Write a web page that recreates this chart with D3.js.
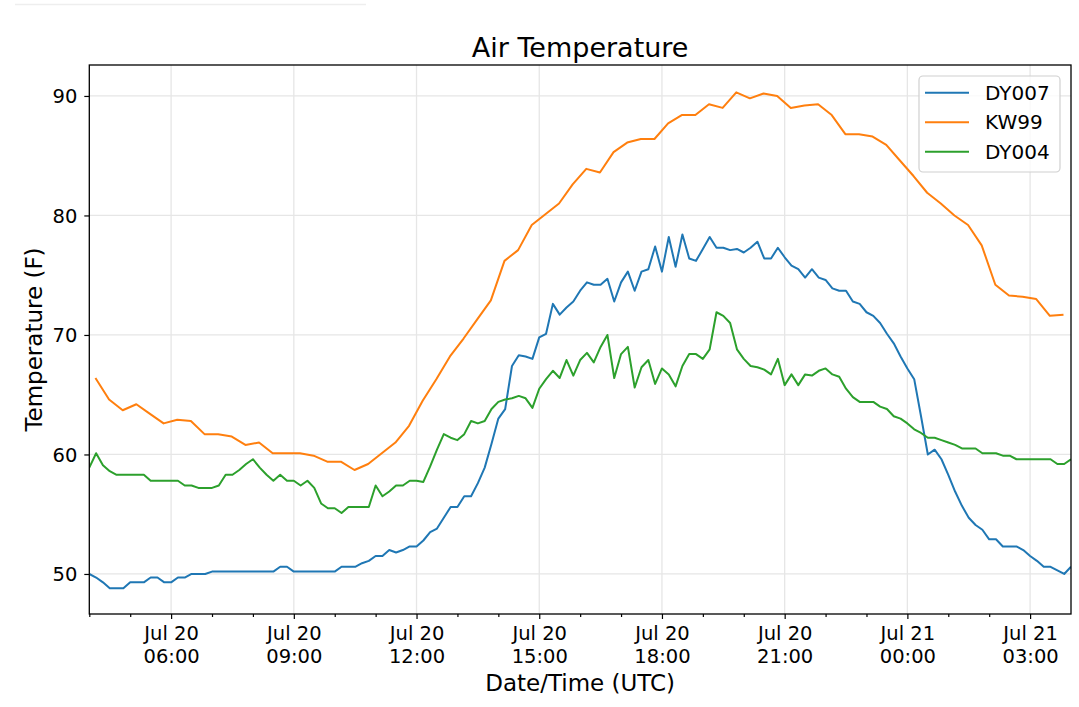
<!DOCTYPE html>
<html lang="en">
  <head>
    <meta charset="utf-8">
    <title>Air Temperature</title>
    <script type="text/javascript" src="https://cdn.jsdelivr.net/npm/d3@7"></script>
    <style type="text/css">
      body { margin: 0; background: #fff; }
      svg text { font-family: "DejaVu Sans", sans-serif; fill: #000; }
    </style>
  </head>
  <body>
    <script type="text/javascript">

      //Width and height
      var w = 1079;
      var h = 707;

      // DY007 and DY004 report every 10 minutes from Jul 20 04:00 UTC
      var stationStart = Date.UTC(2019, 6, 20, 4, 0);
      var stationStep = 10;   // minutes
      // KW99 reports every 20 minutes from Jul 20 04:09 UTC
      var kw99Start = Date.UTC(2019, 6, 20, 4, 9);
      var kw99Step = 20;      // minutes

      var seriesNames = ["DY007", "KW99", "DY004"];
      var seriesColors = ["#1f77b4", "#ff7f0e", "#2ca02c"];

      var dy007 = [50.0, 49.7, 49.3, 48.8, 48.8, 48.8, 49.3, 49.3, 49.3, 49.7,
                   49.7, 49.3, 49.3, 49.7, 49.7, 50.0, 50.0, 50.0, 50.2, 50.2,
                   50.2, 50.2, 50.2, 50.2, 50.2, 50.2, 50.2, 50.2, 50.6, 50.6,
                   50.2, 50.2, 50.2, 50.2, 50.2, 50.2, 50.2, 50.6, 50.6, 50.6,
                   50.9, 51.1, 51.5, 51.5, 52.0, 51.8, 52.0, 52.3, 52.3, 52.8,
                   53.5, 53.8, 54.7, 55.6, 55.6, 56.5, 56.5, 57.6, 58.9, 60.9,
                   63.0, 63.8, 67.4, 68.3, 68.2, 68.0, 69.8, 70.1, 72.6, 71.7,
                   72.3, 72.8, 73.7, 74.4, 74.2, 74.2, 74.7, 72.8, 74.4, 75.3,
                   73.7, 75.3, 75.5, 77.4, 75.3, 78.2, 75.7, 78.4, 76.4, 76.2,
                   77.2, 78.2, 77.3, 77.3, 77.1, 77.2, 76.9, 77.3, 77.8, 76.4,
                   76.4, 77.3, 76.5, 75.8, 75.5, 74.8, 75.5, 74.8, 74.6, 73.9,
                   73.7, 73.7, 72.8, 72.6, 71.9, 71.6, 71.0, 70.1, 69.3, 68.2,
                   67.2, 66.3, 63.2, 60.0, 60.4, 59.6, 58.3, 56.9, 55.7, 54.7,
                   54.1, 53.7, 52.9, 52.9, 52.3, 52.3, 52.3, 52.0, 51.5, 51.1,
                   50.6, 50.6, 50.3, 50.0, 50.6];

      var dy004 = [58.9, 60.1, 59.1, 58.6, 58.3, 58.3, 58.3, 58.3, 58.3, 57.8,
                   57.8, 57.8, 57.8, 57.8, 57.4, 57.4, 57.2, 57.2, 57.2, 57.4,
                   58.3, 58.3, 58.7, 59.2, 59.6, 58.9, 58.3, 57.8, 58.3, 57.8,
                   57.8, 57.4, 57.8, 57.2, 55.9, 55.5, 55.5, 55.1, 55.6, 55.6,
                   55.6, 55.6, 57.4, 56.5, 56.9, 57.4, 57.4, 57.8, 57.8, 57.7,
                   59.0, 60.4, 61.7, 61.4, 61.2, 61.7, 62.8, 62.6, 62.8, 63.8,
                   64.4, 64.6, 64.7, 64.9, 64.7, 63.9, 65.5, 66.3, 67.0, 66.4,
                   67.9, 66.6, 67.9, 68.5, 67.7, 69.0, 70.0, 66.4, 68.4, 69.0,
                   65.6, 67.3, 67.9, 65.9, 67.2, 66.7, 65.7, 67.4, 68.4, 68.4,
                   68.0, 68.8, 71.9, 71.6, 71.0, 68.8, 68.0, 67.4, 67.3, 67.1,
                   66.7, 68.0, 65.8, 66.7, 65.8, 66.7, 66.6, 67.0, 67.2, 66.7,
                   66.5, 65.5, 64.8, 64.4, 64.4, 64.4, 64.0, 63.8, 63.2, 63.0,
                   62.6, 62.1, 61.8, 61.4, 61.4, 61.2, 61.0, 60.8, 60.5, 60.5,
                   60.5, 60.1, 60.1, 60.1, 59.9, 59.9, 59.6, 59.6, 59.6, 59.6,
                   59.6, 59.6, 59.2, 59.2, 59.6];

      var kw99 = [66.4, 64.6, 63.7, 64.2, 63.4, 62.6, 62.9, 62.8, 61.7, 61.7,
                  61.5, 60.8, 61.0, 60.1, 60.1, 60.1, 59.9, 59.4, 59.4, 58.7,
                  59.2, 60.1, 61.0, 62.4, 64.5, 66.3, 68.2, 69.7, 71.3, 72.9,
                  76.2, 77.1, 79.2, 80.1, 81.0, 82.6, 83.9, 83.6, 85.3, 86.1,
                  86.4, 86.4, 87.7, 88.4, 88.4, 89.3, 89.0, 90.3, 89.8, 90.2,
                  90.0, 89.0, 89.2, 89.3, 88.4, 86.8, 86.8, 86.6, 85.9, 84.6,
                  83.3, 81.9, 81.0, 80.0, 79.2, 77.5, 74.2, 73.3, 73.2, 73.0,
                  71.6, 71.7];

      var yTicks = [50, 60, 70, 80, 90];

      function toPoints(values, start, step) {
        return values.map(function(v, i) {
          return { t: new Date(start + i * step * 60000), v: v };
        });
      }

      var series = [
        toPoints(dy007, stationStart, stationStep),
        toPoints(kw99, kw99Start, kw99Step),
        toPoints(dy004, stationStart, stationStep)
      ];

      // plot area
      var plotL = 89.3, plotR = 1071, plotT = 65, plotB = 614;

      var xScale = d3.scaleUtc()
              .domain([new Date(Date.UTC(2019, 6, 20, 4, 0)), new Date(Date.UTC(2019, 6, 21, 4, 0))])
              .range([plotL, plotR]);

      var yScale = d3.scaleLinear()
              .domain([46.65, 92.59])
              .range([plotB, plotT]);

      var majorTicks = d3.utcHour.every(3).range(xScale.domain()[0], xScale.domain()[1]);
      var minorTicks = d3.utcHour.every(1).range(xScale.domain()[0], xScale.domain()[1])
              .filter(function(d) { return d.getUTCHours() % 3 !== 0; });

      //Create SVG element
      var svg = d3.select("body")
            .append("svg")
            .attr("width", w)
            .attr("height", h);

      // faint stray line at the very top of the picture
      svg.append("line")
         .attr("x1", 15).attr("x2", 366)
         .attr("y1", 4.5).attr("y2", 4.5)
         .attr("stroke", "#eeeeee")
         .attr("stroke-width", 1.5);

      //Grid
      svg.append("g")
         .selectAll("line")
         .data(majorTicks)
         .enter()
         .append("line")
         .attr("x1", function(d) { return xScale(d); })
         .attr("x2", function(d) { return xScale(d); })
         .attr("y1", plotT)
         .attr("y2", plotB)
         .attr("stroke", "#e6e6e6")
         .attr("stroke-width", 1.3);

      svg.append("g")
         .selectAll("line")
         .data(yTicks)
         .enter()
         .append("line")
         .attr("x1", plotL)
         .attr("x2", plotR)
         .attr("y1", function(d) { return yScale(d); })
         .attr("y2", function(d) { return yScale(d); })
         .attr("stroke", "#e6e6e6")
         .attr("stroke-width", 1.3);

      //Lines
      var line = d3.line()
              .x(function(d) { return xScale(d.t); })
              .y(function(d) { return yScale(d.v); });

      svg.append("defs").append("clipPath")
         .attr("id", "plotclip")
         .append("rect")
         .attr("x", plotL).attr("y", plotT)
         .attr("width", plotR - plotL).attr("height", plotB - plotT);

      svg.append("g")
         .attr("clip-path", "url(#plotclip)")
         .selectAll("path")
         .data(series)
         .enter()
         .append("path")
         .attr("d", line)
         .attr("fill", "none")
         .attr("stroke", function(d, i) { return seriesColors[i]; })
         .attr("stroke-width", 2)
         .attr("stroke-linejoin", "round");

      //Axes
      var xAxis = svg.append("g")
         .attr("transform", "translate(0," + plotB + ")")
         .call(d3.axisBottom(xScale).tickValues(majorTicks).tickSize(5).tickFormat(""));

      svg.append("g")
         .attr("transform", "translate(0," + plotB + ")")
         .call(d3.axisBottom(xScale).tickValues(minorTicks).tickSize(3).tickFormat(""));

      var fmtDay = d3.utcFormat("%b %d");
      var fmtTime = d3.utcFormat("%H:%M");

      var label = xAxis.selectAll(".tick")
         .append("text")
         .attr("text-anchor", "middle")
         .style("font-size", "19.5px");
      label.append("tspan")
         .attr("x", 0)
         .attr("y", 26)
         .text(function(d) { return fmtDay(d); });
      label.append("tspan")
         .attr("x", 0)
         .attr("y", 49)
         .text(function(d) { return fmtTime(d); });

      var yAxis = svg.append("g")
         .attr("transform", "translate(" + plotL + ",0)")
         .call(d3.axisLeft(yScale).tickValues(yTicks).tickSize(5).tickPadding(7));
      yAxis.selectAll("text")
         .style("font-size", "19.5px")
         .attr("dy", "0.35em");

      svg.selectAll(".domain").remove();
      svg.selectAll(".tick line").attr("stroke", "#000").attr("stroke-width", 1.2);

      // frame
      svg.append("rect")
         .attr("x", plotL).attr("y", plotT)
         .attr("width", plotR - plotL).attr("height", plotB - plotT)
         .attr("fill", "none")
         .attr("stroke", "#000")
         .attr("stroke-width", 1.3);

      //Titles
      svg.append("text")
         .attr("x", (plotL + plotR) / 2)
         .attr("y", 57)
         .attr("text-anchor", "middle")
         .style("font-size", "27px")
         .text("Air Temperature");

      svg.append("text")
         .attr("x", (plotL + plotR) / 2)
         .attr("y", 691)
         .attr("text-anchor", "middle")
         .style("font-size", "23px")
         .text("Date/Time (UTC)");

      svg.append("text")
         .attr("transform", "translate(42," + ((plotT + plotB) / 2) + ") rotate(-90)")
         .attr("text-anchor", "middle")
         .style("font-size", "23px")
         .text("Temperature (F)");

      //Legend
      var legend = svg.append("g");
      legend.append("rect")
         .attr("x", 919).attr("y", 76)
         .attr("width", 141).attr("height", 96)
         .attr("rx", 4)
         .attr("fill", "#fff")
         .attr("fill-opacity", 0.8)
         .attr("stroke", "#d0d0d0")
         .attr("stroke-width", 1.2);

      var rows = legend.selectAll("g.row")
         .data(seriesNames)
         .enter()
         .append("g")
         .attr("class", "row")
         .attr("transform", function(d, i) { return "translate(0," + (92.7 + i * 29.5) + ")"; });
      rows.append("line")
         .attr("x1", 925).attr("x2", 969)
         .attr("stroke", function(d, i) { return seriesColors[i]; })
         .attr("stroke-width", 2);
      rows.append("text")
         .attr("x", 985)
         .attr("dy", "0.36em")
         .style("font-size", "20px")
         .text(function(d) { return d; });

    </script>
  </body>
</html>
